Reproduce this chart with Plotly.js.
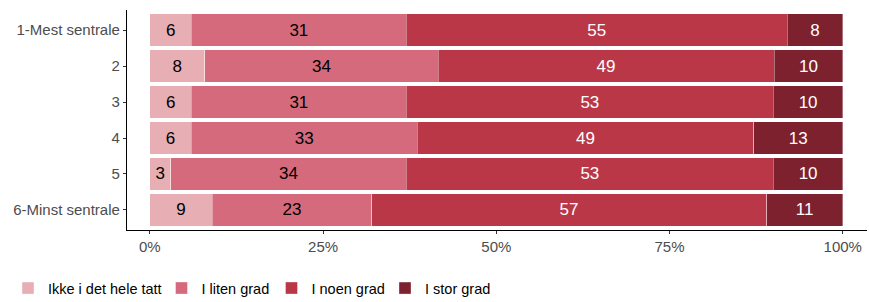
<!DOCTYPE html>
<html>
<head>
<meta charset="utf-8">
<script src="https://cdn.plot.ly/plotly-3.0.1.min.js"></script>
<style>html,body{margin:0;padding:0;background:#fff;}#chart{width:869px;height:302px;}</style>
</head>
<body>
<div id="chart"></div>
<script>
const categories = ["1-Mest sentrale", "2", "3", "4", "5", "6-Minst sentrale"];
const seriesNames = ["Ikke i det hele tatt", "I liten grad", "I noen grad", "I stor grad"];
const ikke = [6, 8, 6, 6, 3, 9];
const liten = [31, 34, 31, 33, 34, 23];
const noen = [55, 49, 53, 49, 53, 57];
const stor = [8, 10, 10, 13, 10, 11];
const tickVals = [0, 25, 50, 75, 100];
const tickText = ["0%", "25%", "50%", "75%", "100%"];

const colors = ["#E7AEB4", "#D46A7B", "#BA3747", "#7D212E"];
const textColors = ["#000000", "#000000", "#ffffff", "#ffffff"];
const seriesValues = [ikke, liten, noen, stor];
const legendIds = ["legend", "legend2", "legend3", "legend4"];
const legendX = [8, 161.5, 271.5, 385];
const FONT = "Liberation Sans, Arial, sans-serif";

const traces = seriesValues.map((vals, i) => ({
  type: "bar",
  orientation: "h",
  name: seriesNames[i],
  legend: legendIds[i],
  y: categories,
  x: vals,
  text: vals.map(String),
  textposition: "inside",
  insidetextanchor: "middle",
  textangle: 0,
  constraintext: "none",
  textfont: {family: FONT, size: 17, color: textColors[i]},
  marker: {color: colors[i], line: {color: "rgba(255,255,255,0.6)", width: 0.6}},
  hoverinfo: "skip"
}));

const layout = {
  width: 869, height: 302,
  margin: {l: 127, r: 2, t: 10, b: 72},
  paper_bgcolor: "#fff", plot_bgcolor: "#fff",
  barmode: "stack",
  barnorm: "percent",
  bargap: 0.1,
  font: {family: FONT, size: 14, color: "#000"},
  uniformtext: {minsize: 17, mode: "show"},
  xaxis: {
    range: [-3.3, 103.5],
    tickvals: tickVals, ticktext: tickText,
    showgrid: false, zeroline: false,
    showline: true, linecolor: "#000", linewidth: 1.1,
    ticks: "outside", ticklen: 3, tickcolor: "#333", tickwidth: 1,
    tickfont: {family: FONT, size: 15, color: "#4D4D4D"}
  },
  yaxis: {
    autorange: false,
    range: [5.556, -0.556],
    type: "category",
    showgrid: false, zeroline: false,
    showline: true, linecolor: "#000", linewidth: 1.1,
    ticks: "outside", ticklen: 3, tickcolor: "#333", tickwidth: 1,
    tickfont: {family: FONT, size: 15, color: "#4D4D4D"}
  },
  showlegend: true
};

legendIds.forEach((id, i) => {
  layout[id] = {
    orientation: "h",
    xref: "container", yref: "container",
    x: legendX[i] / 869, xanchor: "left",
    y: 0.046, yanchor: "middle",
    bgcolor: "rgba(0,0,0,0)",
    font: {family: FONT, size: 14.5, color: "#000"},
    itemwidth: 30
  };
});

Plotly.newPlot("chart", traces, layout, {displayModeBar: false, staticPlot: true});
</script>
</body>
</html>
